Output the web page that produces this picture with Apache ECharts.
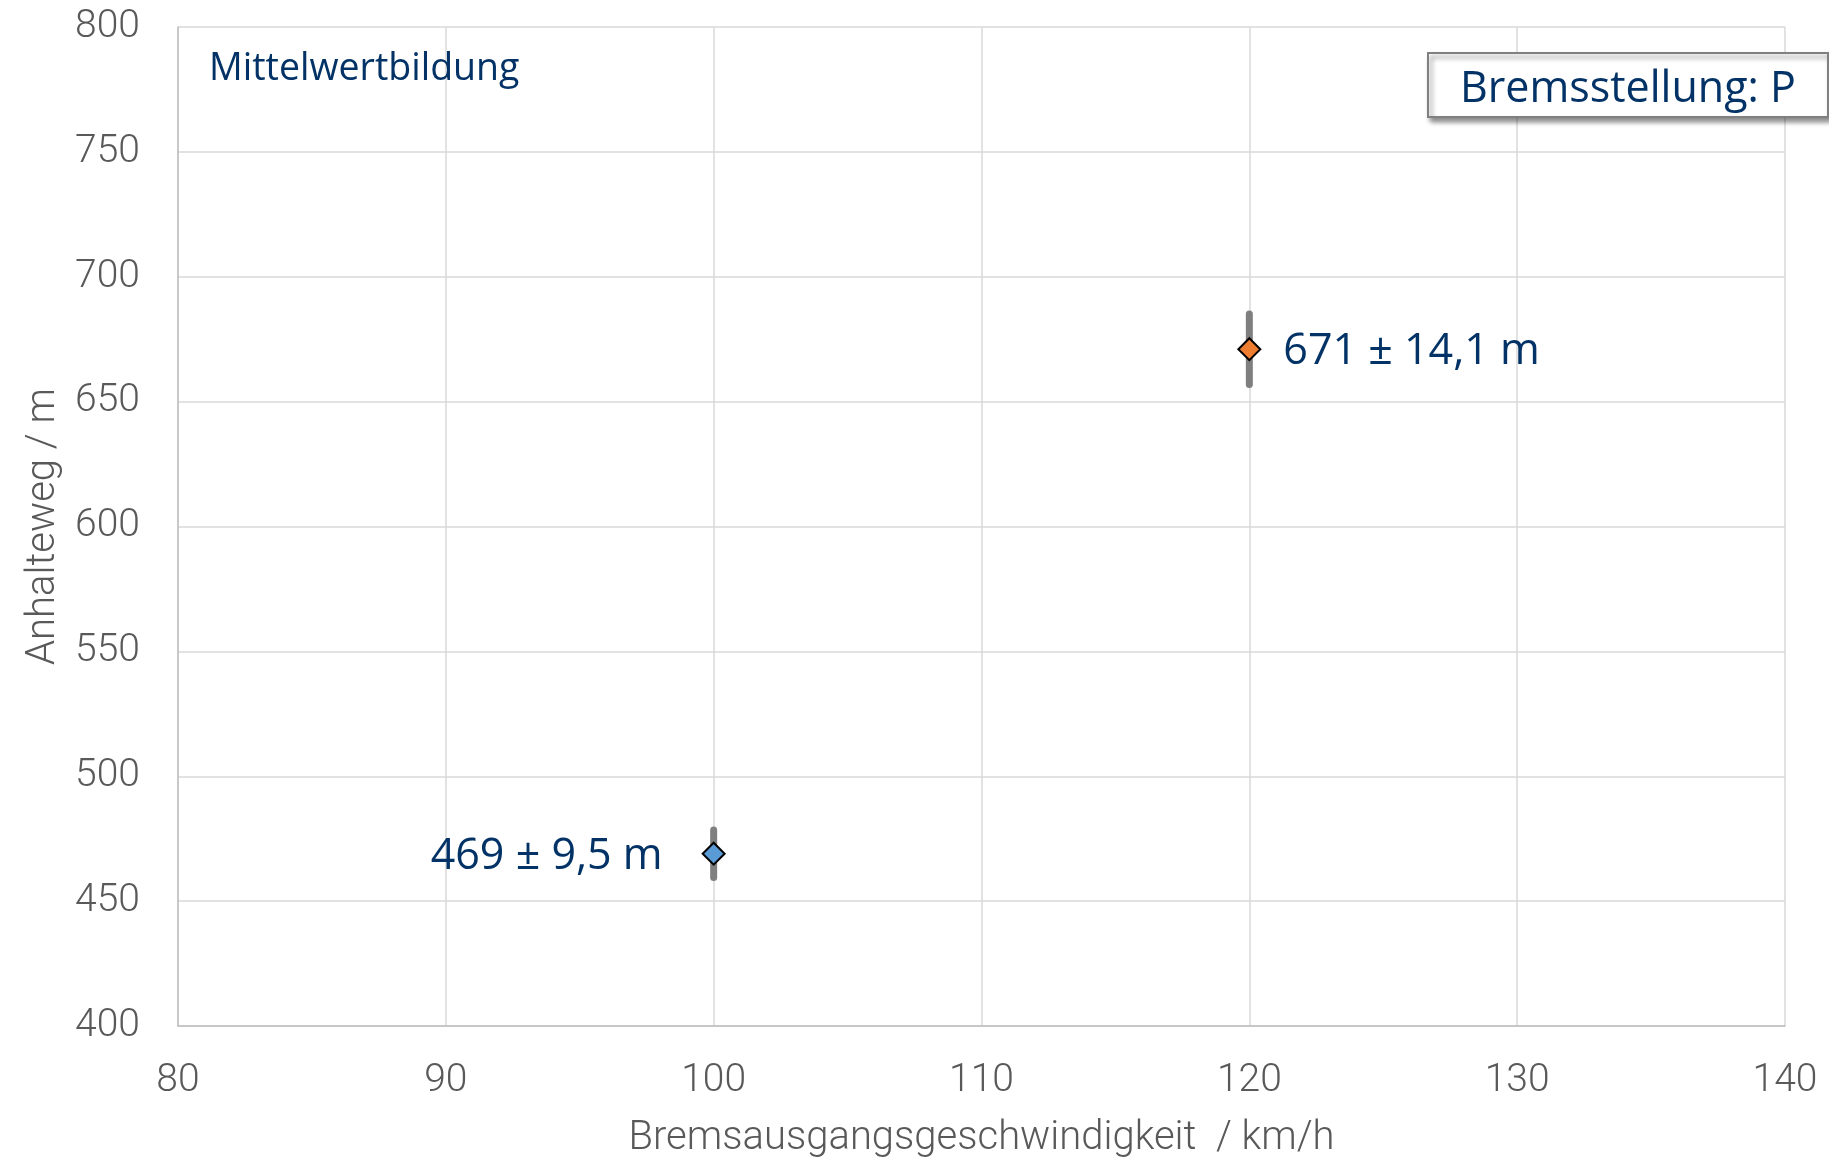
<!DOCTYPE html>
<html>
<head>
<meta charset="utf-8">
<script src="https://cdn.jsdelivr.net/npm/echarts@6/dist/echarts.min.js"></script>
<style>html,body{margin:0;padding:0;background:#fff}#c{width:1829px;height:1159px}</style>
</head>
<body>
<div id="c"></div>
<script>
const speeds = [100, 120];
const means = [469, 671];
const errors = [9.5, 14.1];
const colors = ['#5b9bd5', '#ed7d31'];
const labelSides = ['left', 'right'];
const xTicks = [80, 90, 100, 110, 120, 130, 140];
const yTicks = [400, 450, 500, 550, 600, 650, 700, 750, 800];

const fmt = (m, e) => m + ' ± ' + e.toFixed(1).replace('.', ',') + ' m';
const navy = '#033366';

const chart = echarts.init(document.getElementById('c'));
chart.setOption({
  animation: false,
  grid: { left: 178, right: 44, top: 27, bottom: 133, show: false, outerBoundsMode: 'none', containLabel: false },
  title: [
    { text: 'Mittelwertbildung', left: 209, top: 50, padding: 0,
      textStyle: { fontFamily: 'Open Sans', fontWeight: 'normal', fontSize: 37.5, color: navy } },
    { text: 'Bremsstellung: P', left: 1428, top: 53, padding: [14, 32, 4, 32],
      borderColor: '#808080', borderWidth: 2, backgroundColor: '#fff',
      shadowColor: 'rgba(0,0,0,0.45)', shadowBlur: 5, shadowOffsetX: 3, shadowOffsetY: 4,
      textStyle: { fontFamily: 'Open Sans', fontWeight: 'normal', fontSize: 43, color: navy, lineHeight: 46 } }
  ],
  xAxis: {
    type: 'value', min: xTicks[0], max: xTicks[xTicks.length - 1], interval: 10,
    name: 'Bremsausgangsgeschwindigkeit  / km/h', nameLocation: 'middle', nameGap: 93,
    nameTextStyle: { fontFamily: 'Roboto', fontWeight: 300, fontSize: 40, color: '#595959' },
    axisLine: { show: true, lineStyle: { color: '#bfbfbf', width: 1.5 } },
    axisTick: { show: false },
    axisLabel: { margin: 36, fontFamily: 'Roboto', fontWeight: 300, fontSize: 39, color: '#595959' },
    splitLine: { show: true, lineStyle: { color: '#d9d9d9', width: 1.5 } }
  },
  yAxis: {
    type: 'value', min: yTicks[0], max: yTicks[yTicks.length - 1], interval: 50,
    name: 'Anhalteweg / m', nameLocation: 'middle', nameGap: 111,
    nameTextStyle: { fontFamily: 'Roboto', fontWeight: 300, fontSize: 40, color: '#595959' },
    axisLine: { show: true, lineStyle: { color: '#bfbfbf', width: 1.5 } },
    axisTick: { show: false },
    axisLabel: { margin: 38, fontFamily: 'Roboto', fontWeight: 300, fontSize: 39, color: '#595959' },
    splitLine: { show: true, lineStyle: { color: '#d9d9d9', width: 1.5 } }
  },
  series: [
    {
      type: 'custom',
      z: 2,
      data: speeds.map((s, i) => [s, means[i] - errors[i], means[i] + errors[i]]),
      renderItem: (params, api) => {
        const p1 = api.coord([api.value(0), api.value(1)]);
        const p2 = api.coord([api.value(0), api.value(2)]);
        return { type: 'line', shape: { x1: p1[0], y1: p1[1], x2: p2[0], y2: p2[1] },
          style: { stroke: '#7f7f7f', lineWidth: 7, lineCap: 'round' } };
      }
    },
    {
      type: 'scatter',
      z: 3,
      symbol: 'diamond',
      symbolSize: 22,
      itemStyle: { opacity: 1 },
      data: speeds.map((s, i) => ({
        value: [s, means[i]],
        itemStyle: { color: colors[i], borderColor: '#000', borderWidth: 2, opacity: 1 },
        label: { show: true, position: labelSides[i], distance: labelSides[i] === 'left' ? 39 : 22,
          offset: [0, 3], opacity: 1,
          formatter: fmt(means[i], errors[i]),
          fontFamily: 'Open Sans', fontSize: 43, color: navy }
      }))
    }
  ]
});
</script>
</body>
</html>
